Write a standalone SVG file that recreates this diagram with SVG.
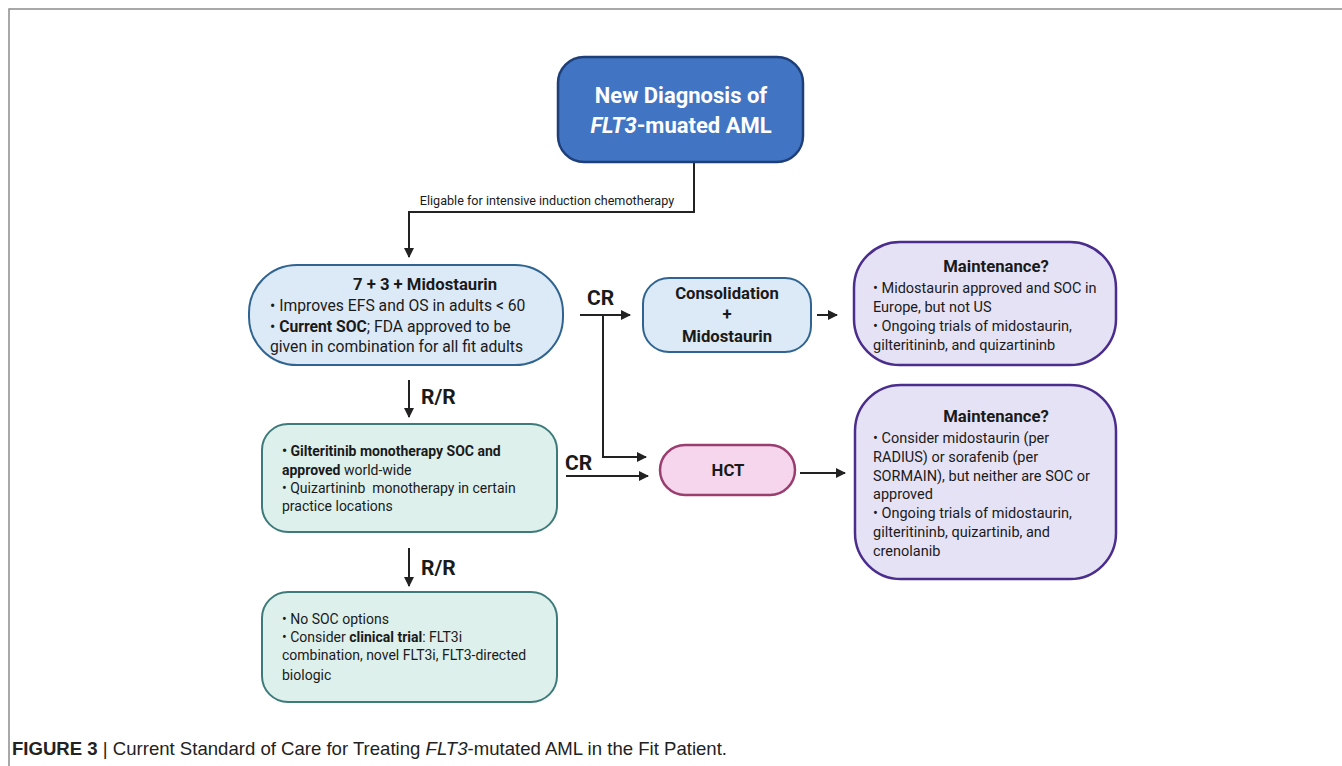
<svg xmlns="http://www.w3.org/2000/svg" width="1342" height="766" viewBox="0 0 1342 766">
<defs>
<marker id="ah" viewBox="0 0 10 10" refX="9" refY="5" markerWidth="5" markerHeight="5" orient="auto" markerUnits="strokeWidth">
<path d="M0,0 L10,5 L0,10 z" fill="#222"/>
</marker>
<style>
text{font-family:Roboto,"Liberation Sans",sans-serif;fill:#1a1a1a}
.b{font-weight:bold}
.t{font-size:15.7px}
.h{font-size:16.7px;font-weight:bold}
.s{font-size:14px}
.m{font-size:14.5px}
.lbl{font-size:21px;font-weight:bold}
.conn{fill:none;stroke:#222;stroke-width:2;marker-end:url(#ah)}
.blue{fill:#dce9f7;stroke:#2f6491;stroke-width:2}
.green{fill:#ddf0ec;stroke:#3d7b7b;stroke-width:2}
.purple{fill:#e6e2f5;stroke:#4a2d8c;stroke-width:2.5}
.pink{fill:#f5d6ec;stroke:#9a3d6f;stroke-width:2.5}
</style>
</defs>
<rect width="1342" height="766" fill="#fff"/>
<path d="M9,766 V9 H1342" fill="none" stroke="#8c8c8c" stroke-width="1.5"/>

<g id="connectors">
<path class="conn" d="M694,162 V212 H409 V257"/>
<path class="conn" d="M409,380 V417"/>
<path class="conn" d="M409,548 V586"/>
<path class="conn" d="M580,315 H630"/>
<path class="conn" d="M603,315 V457 H646"/>
<path class="conn" d="M566,476 H648"/>
<path class="conn" d="M817,315 H837"/>
<path class="conn" d="M800,473 H845"/>
<text x="547" y="205" text-anchor="middle" style="font-size:12.6px">Eligable for intensive induction chemotherapy</text>
<text class="lbl" x="421" y="404">R/R</text>
<text class="lbl" x="421" y="575">R/R</text>
<text class="lbl" x="587" y="305">CR</text>
<text class="lbl" x="565" y="470">CR</text>
</g>

<g id="n-diagnosis">
<rect x="558" y="57" width="245" height="105" rx="26" fill="#4174c2" stroke="#1f3f7a" stroke-width="2.5"/>
<text x="681" y="103" text-anchor="middle" class="b" style="font-size:22px;fill:#fff">New Diagnosis of</text>
<text x="681" y="133" text-anchor="middle" class="b" style="font-size:22px;fill:#fff"><tspan font-style="italic">FLT3</tspan>-muated AML</text>
</g>

<g id="n-induction">
<rect class="blue" x="249" y="265" width="314" height="100" rx="48"/>
<text x="425" y="290" text-anchor="middle" class="h">7 + 3 + Midostaurin</text>
<text x="270" y="311" class="t">• Improves EFS and OS in adults &lt; 60</text>
<text x="270" y="332" class="t">• <tspan class="b">Current SOC</tspan>; FDA approved to be</text>
<text x="270" y="352" class="t">given in combination for all fit adults</text>
</g>

<g id="n-consolidation">
<rect class="blue" x="643" y="278" width="168" height="74" rx="26"/>
<text x="727" y="299" text-anchor="middle" class="h">Consolidation</text>
<text x="727" y="320" text-anchor="middle" class="h">+</text>
<text x="727" y="342" text-anchor="middle" class="h">Midostaurin</text>
</g>

<g id="n-maint1">
<rect class="purple" x="854" y="242" width="262" height="123" rx="46"/>
<text x="996" y="272" text-anchor="middle" class="h">Maintenance?</text>
<text x="873" y="293" class="m">• Midostaurin approved and SOC in</text>
<text x="873" y="312" class="m">Europe, but not US</text>
<text x="873" y="331" class="m">• Ongoing trials of midostaurin,</text>
<text x="873" y="350" class="m">gilteritininb, and quizartininb</text>
</g>

<g id="n-relapse1">
<rect class="green" x="262" y="424" width="295" height="108" rx="26"/>
<text x="282" y="456" class="s"><tspan class="b">• Gilteritinib monotherapy SOC and</tspan></text>
<text x="282" y="475" class="s"><tspan class="b">approved</tspan> world-wide</text>
<text x="282" y="493" class="s">• Quizartininb&#160; monotherapy in certain</text>
<text x="282" y="511" class="s">practice locations</text>
</g>

<g id="n-hct">
<rect class="pink" x="660" y="445" width="135" height="50" rx="25"/>
<text x="728" y="476" text-anchor="middle" class="h">HCT</text>
</g>

<g id="n-maint2">
<rect class="purple" x="855" y="385" width="261" height="194" rx="46"/>
<text x="996" y="422" text-anchor="middle" class="h">Maintenance?</text>
<text x="873" y="443" class="m">• Consider midostaurin (per</text>
<text x="873" y="462" class="m">RADIUS) or sorafenib (per</text>
<text x="873" y="481" class="m">SORMAIN), but neither are SOC or</text>
<text x="873" y="499" class="m">approved</text>
<text x="873" y="518" class="m">• Ongoing trials of midostaurin,</text>
<text x="873" y="537" class="m">gilteritininb, quizartinib, and</text>
<text x="873" y="556" class="m">crenolanib</text>
</g>

<g id="n-relapse2">
<rect class="green" x="262" y="592" width="295" height="110" rx="26"/>
<text x="282" y="624" class="s">• No SOC options</text>
<text x="282" y="642" class="s">• Consider <tspan class="b">clinical trial</tspan>: FLT3i</text>
<text x="282" y="660" class="s">combination, novel FLT3i, FLT3-directed</text>
<text x="282" y="680" class="s">biologic</text>
</g>

<text x="12" y="755" textLength="715" lengthAdjust="spacingAndGlyphs" style="font-family:'Liberation Sans',Arial,sans-serif;font-size:18.5px;fill:#222"><tspan font-weight="bold">FIGURE 3</tspan> | Current Standard of Care for Treating <tspan font-style="italic">FLT3</tspan>-mutated AML in the Fit Patient.</text>
</svg>
